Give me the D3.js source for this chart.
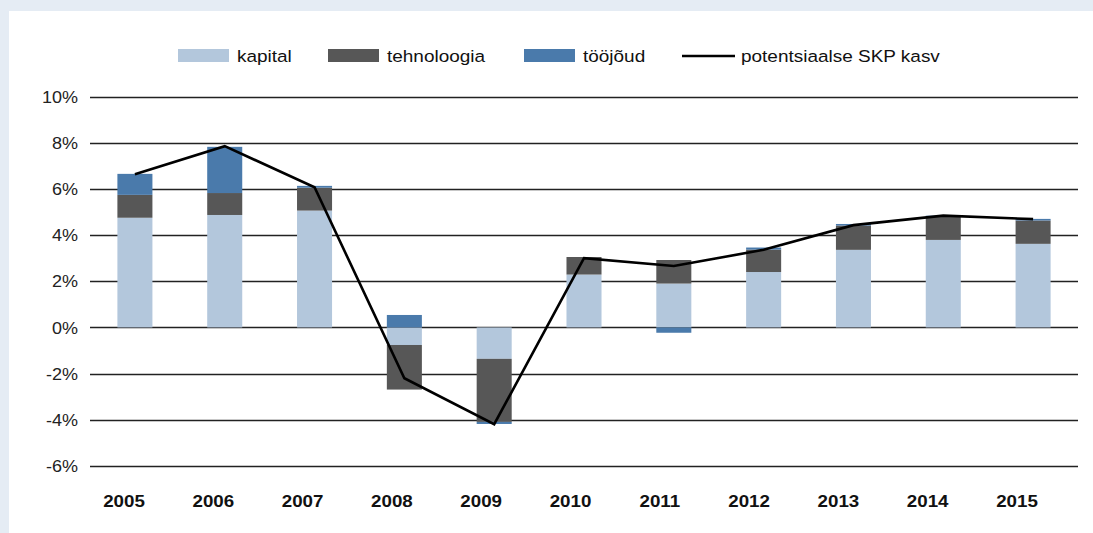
<!DOCTYPE html>
<html>
<head>
<meta charset="utf-8">
<script src="https://cdn.jsdelivr.net/npm/d3@7"></script>
<style>
  html, body { margin: 0; padding: 0; background: #e5ecf4; }
  svg { display: block; font-family: "Liberation Sans", Arial, Helvetica, sans-serif; }
</style>
</head>
<body>
<svg id="chart" width="1093" height="533"></svg>
<script>
// ---- data ----
const years = ["2005","2006","2007","2008","2009","2010","2011","2012","2013","2014","2015"];
const kapital = [4.75, 4.87, 5.06, -0.76, -1.36, 2.29, 1.90, 2.40, 3.36, 3.79, 3.62];
const tehnoloogia = [0.99, 0.95, 0.99, -1.93, -2.73, 0.76, 1.02, 0.97, 1.05, 1.01, 1.01];
const toojoud = [0.91, 2.00, 0.08, 0.54, -0.09, 0.00, -0.23, 0.09, 0.07, 0.04, 0.07];
const potentsiaalne = [6.63, 7.85, 6.07, -2.20, -4.19, 3.00, 2.66, 3.36, 4.43, 4.84, 4.69];
const yTicks = [-6, -4, -2, 0, 2, 4, 6, 8, 10];
const seriesNames = ["kapital", "tehnoloogia", "tööjõud"];
const lineName = "potentsiaalse SKP kasv";
const colors = { "kapital": "#b3c7dc", "tehnoloogia": "#575757", "tööjõud": "#4a7aab" };

// ---- build ----
const svg = d3.select("#chart");
svg.append("rect").attr("x", 9).attr("y", 11).attr("width", 1084).attr("height", 522).attr("fill", "#ffffff");

const x = d3.scaleBand().domain(years).range([90, 1078]).paddingInner(0.61).paddingOuter(0.305);
const xl = d3.scalePoint().domain(years).range([124, 1017]);
const y = d3.scaleLinear().domain([-6, 10]).range([466, 96.5]);

// gridlines
svg.append("g").selectAll("line").data(yTicks).join("line")
  .attr("x1", 90).attr("x2", 1078)
  .attr("y1", d => Math.round(y(d)) + 0.5).attr("y2", d => Math.round(y(d)) + 0.5)
  .attr("stroke", "#222").attr("stroke-width", 1.3);

// y labels
svg.append("g").selectAll("text").data(yTicks).join("text")
  .attr("transform", d => `translate(78,${y(d)}) scale(1.06,1)`)
  .attr("dy", "0.36em")
  .attr("text-anchor", "end").attr("font-size", 17).attr("fill", "#222")
  .text(d => d + "%");

// x labels
svg.append("g").selectAll("text").data(years).join("text")
  .attr("transform", d => `translate(${xl(d)},507) scale(1.15,1)`)
  .attr("text-anchor", "middle").attr("font-size", 16.3).attr("font-weight", "bold").attr("fill", "#111")
  .text(d => d);

// stacked bars
const table = years.map((yr, i) => ({ year: yr, "kapital": kapital[i], "tehnoloogia": tehnoloogia[i], "tööjõud": toojoud[i] }));
const stack = d3.stack().keys(seriesNames).offset(d3.stackOffsetDiverging);
const layers = stack(table);
svg.append("g").selectAll("g").data(layers).join("g")
  .attr("fill", d => colors[d.key])
  .selectAll("rect").data(d => d).join("rect")
  .attr("x", d => x(d.data.year))
  .attr("width", x.bandwidth())
  .attr("y", d => y(Math.max(d[0], d[1])))
  .attr("height", d => Math.abs(y(d[0]) - y(d[1])));

// line
const line = d3.line().x((d, i) => x(years[i]) + x.bandwidth() / 2).y(d => y(d));
svg.append("path").datum(potentsiaalne)
  .attr("d", line).attr("fill", "none").attr("stroke", "#000").attr("stroke-width", 2.6)
  .attr("stroke-linejoin", "miter");

// legend
const legendItems = [
  { name: seriesNames[0], type: "rect", sx: 178, tx: 237 },
  { name: seriesNames[1], type: "rect", sx: 328, tx: 387 },
  { name: seriesNames[2], type: "rect", sx: 524, tx: 583 },
  { name: lineName, type: "line", sx: 682, tx: 741 }
];
const lg = svg.append("g");
legendItems.forEach(it => {
  if (it.type === "rect") {
    lg.append("rect").attr("x", it.sx).attr("y", 49).attr("width", 51).attr("height", 13).attr("fill", colors[it.name]);
  } else {
    lg.append("line").attr("x1", it.sx).attr("x2", it.sx + 53).attr("y1", 56).attr("y2", 56)
      .attr("stroke", "#000").attr("stroke-width", 2.6);
  }
  lg.append("text").attr("transform", `translate(${it.tx},56) scale(1.15,1)`).attr("dy", "0.36em")
    .attr("font-size", 16.5).attr("fill", "#111").text(it.name);
});
</script>
</body>
</html>
